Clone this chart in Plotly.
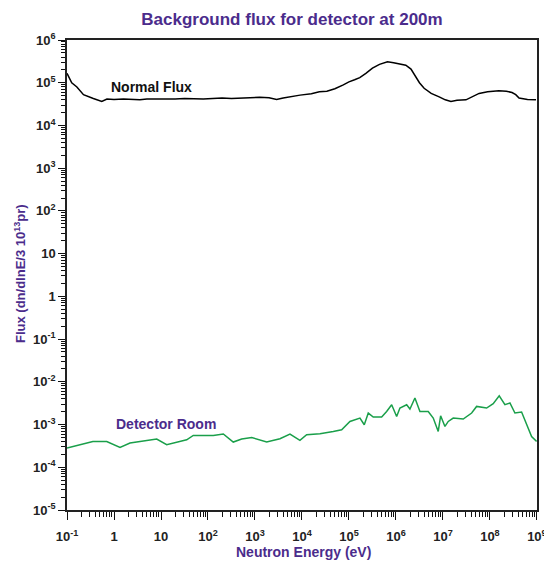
import numpy as np
import plotly.graph_objects as go

# ---- data (log10 of neutron energy in eV, log10 of flux) ----
normal_log_e = [-1.0, -0.9, -0.79, -0.65, -0.44, -0.26, -0.15, 0.0, 0.2, 0.4, 0.55, 0.7,
                0.9, 1.1, 1.3, 1.5, 1.7, 1.9, 2.1, 2.3, 2.5, 2.7, 2.9, 3.1, 3.3, 3.46,
                3.6, 3.8, 3.96, 4.2, 4.37, 4.53, 4.7, 4.88, 5.0, 5.12, 5.23, 5.36, 5.5,
                5.65, 5.82, 5.95, 6.1, 6.21, 6.32, 6.42, 6.5, 6.6, 6.75, 6.92, 7.05,
                7.17, 7.3, 7.49, 7.63, 7.77, 7.95, 8.19, 8.35, 8.47, 8.55, 8.62, 8.8, 8.98]
normal_log_f = [5.22, 5.00, 4.90, 4.72, 4.63, 4.56, 4.62, 4.61, 4.62, 4.61, 4.60, 4.62,
                4.62, 4.61, 4.62, 4.63, 4.62, 4.62, 4.63, 4.64, 4.63, 4.64, 4.65, 4.66, 4.65, 4.61,
                4.64, 4.68, 4.71, 4.74, 4.79, 4.80, 4.86, 4.95, 5.02, 5.07, 5.12, 5.22, 5.34,
                5.43, 5.49, 5.47, 5.44, 5.41, 5.32, 5.14, 5.00, 4.87, 4.75, 4.67, 4.60,
                4.56, 4.59, 4.60, 4.67, 4.75, 4.79, 4.81, 4.80, 4.77, 4.72, 4.64, 4.61, 4.60]

detector_log_e = [-1.0, -0.45, -0.155, 0.128, 0.34, 0.696, 0.909, 1.121, 1.334, 1.547,
                  1.687, 2.113, 2.326, 2.538, 2.717, 2.93, 3.249, 3.532, 3.745, 3.957,
                  4.1, 4.383, 4.666, 4.845, 5.021, 5.234, 5.326, 5.411, 5.517, 5.696,
                  5.802, 5.909, 6.015, 6.085, 6.228, 6.298, 6.404, 6.511, 6.687, 6.794,
                  6.9, 6.951, 7.043, 7.113, 7.219, 7.432, 7.611, 7.717, 7.93, 8.07,
                  8.198, 8.319, 8.426, 8.532, 8.674, 8.781, 8.887, 8.994]
detector_log_f = [-3.55, -3.396, -3.396, -3.536, -3.433, -3.379, -3.34, -3.473, -3.41, -3.356,
                  -3.255, -3.255, -3.222, -3.41, -3.34, -3.302, -3.41, -3.333, -3.222, -3.372,
                  -3.239, -3.215, -3.162, -3.122, -2.927, -2.848, -3.005, -2.731, -2.824, -2.824,
                  -2.693, -2.536, -2.81, -2.614, -2.536, -2.637, -2.379, -2.693, -2.693, -2.848,
                  -3.162, -2.796, -3.044, -2.927, -2.848, -2.871, -2.731, -2.576, -2.614, -2.513,
                  -2.326, -2.536, -2.496, -2.731, -2.707, -3.005, -3.279, -3.396]

x_decades = list(range(-1, 10))
x_tick_text = ["10<sup>-1</sup>", "1", "10", "10<sup>2</sup>", "10<sup>3</sup>", "10<sup>4</sup>",
               "10<sup>5</sup>", "10<sup>6</sup>", "10<sup>7</sup>", "10<sup>8</sup>", "10<sup>9</sup>"]
y_decades = list(range(-5, 7))
y_tick_text = ["10<sup>-5</sup>", "10<sup>-4</sup>", "10<sup>-3</sup>", "10<sup>-2</sup>",
               "10<sup>-1</sup>", "1", "10", "10<sup>2</sup>", "10<sup>3</sup>",
               "10<sup>4</sup>", "10<sup>5</sup>", "10<sup>6</sup>"]

PURPLE = "#4b2c8c"
GREEN = "#1a9f4a"
FONT = "Liberation Sans, Arial, sans-serif"

def minor_vals(decades):
    return [m * 10.0 ** d for d in decades[:-1] for m in range(2, 10)]

fig = go.Figure()
fig.add_trace(go.Scatter(x=np.power(10.0, normal_log_e), y=np.power(10.0, normal_log_f),
                         mode="lines", line=dict(color="black", width=1.5),
                         showlegend=False, hoverinfo="skip"))
fig.add_trace(go.Scatter(x=np.power(10.0, detector_log_e), y=np.power(10.0, detector_log_f),
                         mode="lines", line=dict(color=GREEN, width=1.5),
                         showlegend=False, hoverinfo="skip"))

axis_common = dict(type="log", showgrid=False, zeroline=False, showline=True,
                   linecolor="#222222", linewidth=1.5, mirror=True,
                   ticks="outside", tickcolor="#111111", tickwidth=1.3,
                   ticklabeloverflow="allow", automargin=False,
                   tickfont=dict(family=FONT, size=13, color="#222222", weight="bold"))

fig.update_xaxes(**axis_common, range=[-1.0005, 9.002], tickmode="array",
                 tickvals=[10.0 ** d for d in x_decades], ticktext=x_tick_text,
                 ticklen=8, ticklabelstandoff=6,
                 minor=dict(ticks="outside", ticklen=5, tickcolor="#111111", tickwidth=1.1,
                            tickmode="array", tickvals=minor_vals(x_decades), showgrid=False))
fig.update_yaxes(**axis_common, range=[-5, 6], tickmode="array",
                 tickvals=[10.0 ** d for d in y_decades], ticktext=y_tick_text,
                 ticklen=7,
                 minor=dict(ticks="outside", ticklen=4, tickcolor="#111111", tickwidth=1.1,
                            tickmode="array", tickvals=minor_vals(y_decades), showgrid=False))

fig.update_layout(
    width=544, height=561,
    margin=dict(l=67, r=7, t=40, b=51),
    paper_bgcolor="white", plot_bgcolor="white",
    title=dict(text="Background flux for detector at 200m", x=292 / 544, xref="container",
               y=1 - 19.5 / 561, yref="container", xanchor="center", yanchor="middle",
               font=dict(family=FONT, size=17, color=PURPLE, weight="bold")),
    annotations=[
        dict(text="Neutron Energy (eV)", xref="paper", yref="paper", x=(303 - 67) / 470,
             y=-(552 - 510) / 470, xanchor="center", yanchor="middle", showarrow=False,
             font=dict(family=FONT, size=14, color=PURPLE, weight="bold")),
        dict(text="Flux (dn/dlnE/3 10<sup>13</sup>pr)", xref="paper", yref="paper",
             x=(20 - 67) / 470, y=1 - (274 - 40) / 470, textangle=-90,
             xanchor="center", yanchor="middle", showarrow=False,
             font=dict(family=FONT, size=13, color=PURPLE, weight="bold")),
        dict(text="Normal Flux", xref="paper", yref="paper", x=(151 - 67) / 470,
             y=1 - (86.5 - 40) / 470, xanchor="center", yanchor="middle", showarrow=False,
             font=dict(family=FONT, size=14, color="#111111", weight="bold")),
        dict(text="Detector Room", xref="paper", yref="paper", x=(166 - 67) / 470,
             y=1 - (424 - 40) / 470, xanchor="center", yanchor="middle", showarrow=False,
             font=dict(family=FONT, size=14, color=PURPLE, weight="bold")),
    ],
)

fig.write_html("out.html")
